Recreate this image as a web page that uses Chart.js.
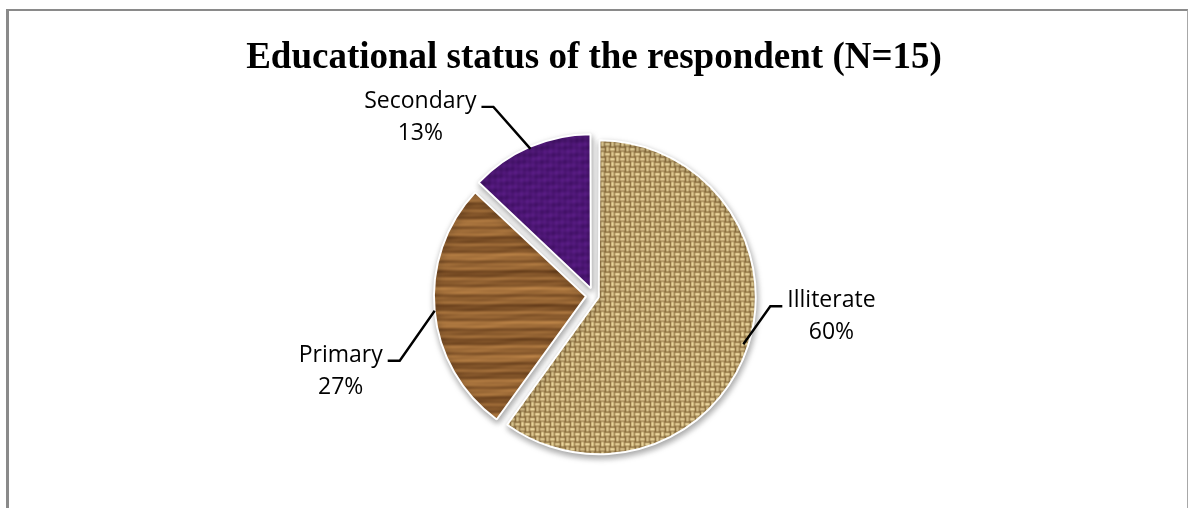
<!DOCTYPE html>
<html lang="en">
<head>
    <meta charset="utf-8" />
    <title>Educational status</title>
    <script src="https://cdn.jsdelivr.net/npm/chart.js"></script>
    <style>
        html, body { margin: 0; padding: 0; background: #fff; }
        #wrap { position: relative; width: 1189px; height: 508px; overflow: hidden; }
        #frame {
            position: absolute; left: 6px; top: 9px; width: 1182px; height: 520px;
            border-left: 3px solid #8a8a8a; border-top: 2px solid #8a8a8a;
            border-right: 1px solid #a8a8a8; box-sizing: border-box;
        }
        #eduChart { position: absolute; left: 0; top: 0; }
    </style>
</head>

<body>
    <div id="wrap">
        <div id="frame"></div>
        <canvas id="eduChart" width="1189" height="508"></canvas>
    </div>

    <script>
        const categories = ['Illiterate', 'Primary', 'Secondary'];
        const percents = [60, 27, 13];

        // small pixel tiles used as slice fills
        function makeTile(w, h, paint) {
            const c = document.createElement('canvas');
            c.width = w; c.height = h;
            const g = c.getContext('2d');
            const img = g.createImageData(w, h);
            for (let y = 0; y < h; y++) {
                for (let x = 0; x < w; x++) {
                    const rgb = paint(x, y);
                    const k = (y * w + x) * 4;
                    img.data[k] = rgb[0]; img.data[k + 1] = rgb[1]; img.data[k + 2] = rgb[2]; img.data[k + 3] = 255;
                }
            }
            g.putImageData(img, 0, 0);
            return c;
        }

        function mix(a, b, t) {
            t = Math.max(0, Math.min(1, t));
            return [0, 1, 2].map(i => Math.round(a[i] + (b[i] - a[i]) * t));
        }

        const TWO_PI = Math.PI * 2;

        // burlap: basket weave, 5px threads, a little uneven from cell to cell
        const cellShade = [1.0, 0.86, 0.96, 0.8, 0.93, 1.0, 0.85, 0.97, 0.9, 0.78, 1.0, 0.88, 0.95, 0.83, 0.99, 0.91];
        const burlapTile = makeTile(20, 20, (x, y) => {
            const i = Math.floor(x / 5), j = Math.floor(y / 5);
            const u = x % 5, v = y % 5;
            const horizontal = (i + j) % 2 === 0;
            const across = [0.14, 0.7, 1.0, 0.84, 0.4];
            const along = [0.75, 1.0, 1.0, 1.0, 0.85];
            let t = horizontal ? across[v] * along[u] : across[u] * along[v];
            t *= cellShade[(i * 4 + j) % 16];
            return mix([122, 90, 44], [244, 224, 166], t);
        });

        // wood grain, horizontal streaks
        const woodTile = makeTile(128, 160, (x, y) => {
            const t = 0.52
                + 0.22 * Math.sin(TWO_PI * 14 * y / 160 + 0.6 * Math.sin(TWO_PI * x / 128))
                + 0.16 * Math.sin(TWO_PI * 5 * y / 160 + 1.3)
                + 0.10 * Math.sin(TWO_PI * 33 * y / 160 + 0.4)
                + 0.04 * Math.sin(TWO_PI * (3 * x / 128 + 21 * y / 160));
            return mix([100, 60, 26], [186, 130, 70], t);
        });

        // purple velvet
        const velvetTile = makeTile(64, 64, (x, y) => {
            const t = 0.5
                + 0.12 * Math.sin(TWO_PI * 9 * y / 64)
                + 0.08 * Math.sin(TWO_PI * (3 * x + 5 * y) / 64)
                + 0.08 * Math.sin(TWO_PI * 11 * x / 64 + 1.1);
            return mix([56, 12, 90], [100, 34, 146], t);
        });

        const canvas = document.getElementById('eduChart');
        const ctx = canvas.getContext('2d');
        const fills = [
            ctx.createPattern(burlapTile, 'repeat'),
            ctx.createPattern(woodTile, 'repeat'),
            ctx.createPattern(velvetTile, 'repeat')
        ];

        // leader line elbows relative to the slice edge, and which side the text sits on
        const leaderElbow = [[27, -38], [-35, 50], [-37, -42]];
        const leaderSide = [1, -1, -1];

        const sliceShadow = {
            id: 'sliceShadow',
            beforeDatasetsDraw(chart) {
                const c = chart.ctx;
                c.save();
                c.shadowColor = 'rgba(0, 0, 0, 0.35)';
                c.shadowBlur = 6;
                c.shadowOffsetX = 1;
                c.shadowOffsetY = 3;
            },
            afterDatasetsDraw(chart) {
                chart.ctx.restore();
            }
        };

        const sliceLabels = {
            id: 'sliceLabels',
            afterDatasetsDraw(chart) {
                const c = chart.ctx;
                const meta = chart.getDatasetMeta(0);
                c.save();
                c.font = '23px "Open Sans"';
                c.fillStyle = '#000';
                c.strokeStyle = '#000';
                c.lineWidth = 2.4;
                c.textAlign = 'center';
                c.textBaseline = 'alphabetic';
                meta.data.forEach((arc, i) => {
                    const mid = (arc.startAngle + arc.endAngle) / 2;
                    const off = (arc.options.offset || 0) / 4;
                    const r = arc.outerRadius + off;
                    const ex = arc.x + Math.cos(mid) * r;
                    const ey = arc.y + Math.sin(mid) * r;
                    const bx = ex + leaderElbow[i][0];
                    const by = ey + leaderElbow[i][1];
                    const side = leaderSide[i];
                    const tx = bx + side * 12;

                    c.beginPath();
                    c.moveTo(ex, ey);
                    c.lineTo(bx, by);
                    c.lineTo(tx, by);
                    c.stroke();

                    const line1 = categories[i];
                    const line2 = percents[i] + '%';
                    const w = Math.max(c.measureText(line1).width, c.measureText(line2).width);
                    const cx = tx + side * (5 + w / 2);
                    c.fillText(line1, cx, by + 1);
                    c.fillText(line2, cx, by + 33);
                });
                c.restore();
            }
        };

        new Chart(ctx, {
            type: 'pie',
            data: {
                labels: categories,
                datasets: [{
                    data: percents,
                    backgroundColor: fills,
                    borderColor: '#ffffff',
                    borderWidth: 2,
                    offset: [20, 32, 32],
                    hoverOffset: 0
                }]
            },
            options: {
                responsive: false,
                animation: false,
                radius: 152,
                layout: { padding: { left: 0, right: 1, top: 0, bottom: 3 } },
                plugins: {
                    legend: { display: false },
                    tooltip: { enabled: false },
                    title: {
                        display: true,
                        text: 'Educational status of the respondent (N=15)',
                        color: '#000',
                        font: { family: '"Liberation Serif"', size: 37, weight: 'bold', lineHeight: 1.2 },
                        padding: { top: 36, bottom: 6 }
                    }
                },
                events: []
            },
            plugins: [sliceShadow, sliceLabels]
        });
    </script>
</body>
</html>
